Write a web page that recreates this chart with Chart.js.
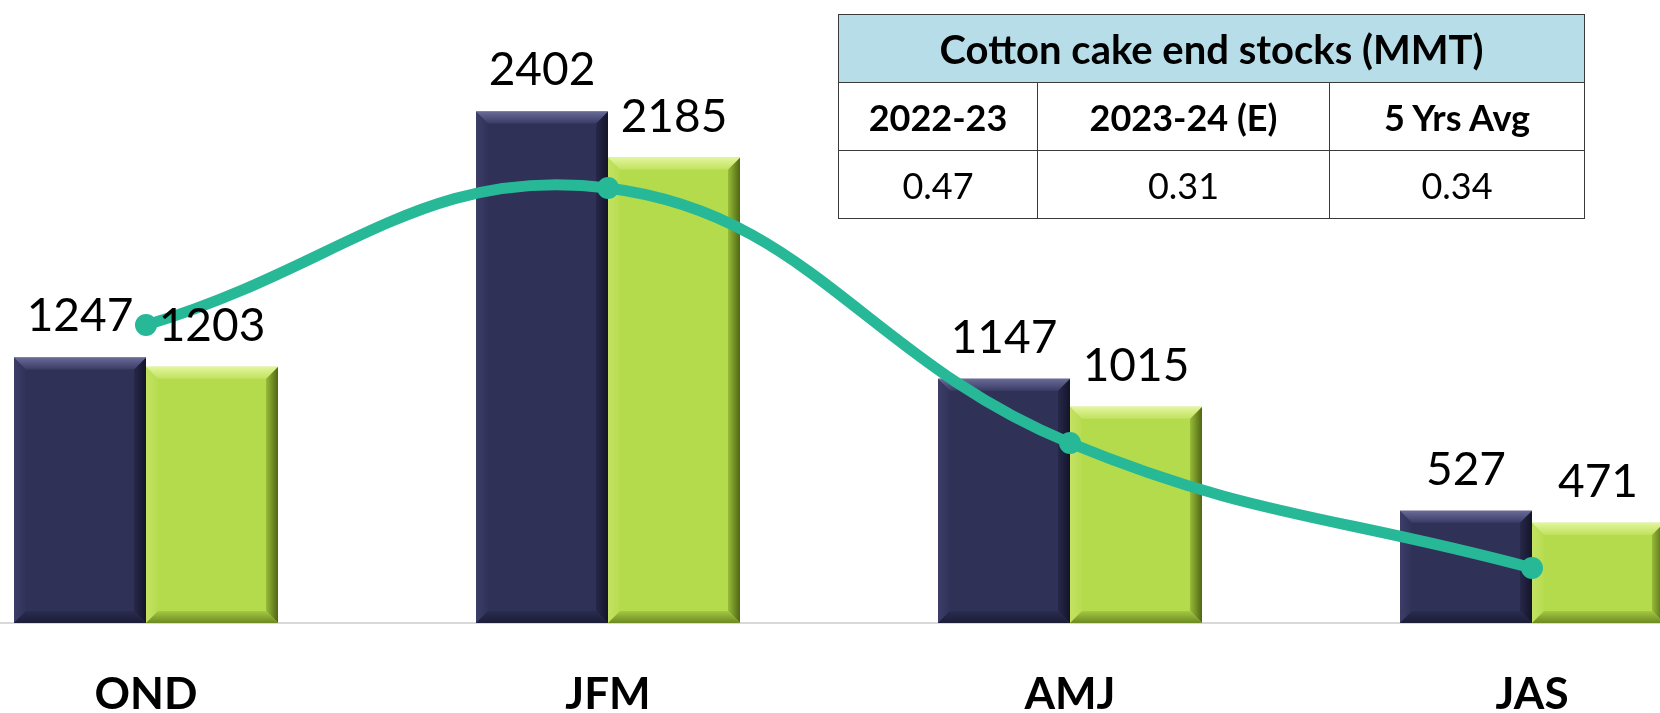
<!DOCTYPE html>
<html>
<head>
<meta charset="utf-8">
<script src="https://cdn.jsdelivr.net/npm/chart.js@4"></script>
<style>
  html, body { margin: 0; padding: 0; background: #fff; overflow: hidden; }
  body { width: 1660px; height: 713px; position: relative; }
  #wrap { position: absolute; left: -85px; top: 0; width: 1848px; height: 713px; }
  #stocks {
    position: absolute; left: 838px; top: 14px; width: 746px; height: 204px;
    border-collapse: collapse; font-family: Lato, sans-serif; color: #000;
    table-layout: fixed;
  }
  #stocks td, #stocks th { border: 1.5px solid #3a3a3a; text-align: center; padding: 0; }
  #stocks th { background: #b7dde8; font-weight: bold; font-size: 40px; height: 67px; }
  #stocks .yr td { font-weight: bold; font-size: 36px; height: 67px; }
  #stocks .val td { font-size: 36px; height: 67px; }
</style>
</head>
<body>
<div id="wrap"><canvas id="chart" width="1848" height="713"></canvas></div>
<table id="stocks">
  <colgroup><col style="width:199px"><col style="width:292px"><col style="width:255px"></colgroup>
  <tr><th colspan="3" id="tblTitle"></th></tr>
  <tr class="yr" id="tblHead"></tr>
  <tr class="val" id="tblVals"></tr>
</table>
<script>
const quarters = ["OND", "JFM", "AMJ", "JAS"];
const stocks2223 = [1247, 2402, 1147, 527];
const stocks2324 = [1203, 2185, 1015, 471];
const avgLine = [1399, 2042, 845, 258];

const tableTitle = "Cotton cake end stocks (MMT)";
const tableHeads = ["2022-23", "2023-24 (E)", "5 Yrs Avg"];
const tableVals = ["0.47", "0.31", "0.34"];

document.getElementById("tblTitle").textContent = tableTitle;
document.getElementById("tblHead").innerHTML = tableHeads.map(h => `<td>${h}</td>`).join("");
document.getElementById("tblVals").innerHTML = tableVals.map(v => `<td>${v}</td>`).join("");

// bevelled look of the bars
const bevels = {
  navy: { top: ["#6a6c98", "#3a3c66"], left: ["#3c3e68", "#30325a"], right: ["#14152a", "#262849"], bottom: ["#1c1d36", "#2a2c50"] },
  green: { top: ["#e2f59c", "#c2e260"], left: ["#c4e262", "#b6dc50"], right: ["#4f6614", "#98bb38"], bottom: ["#6c8a20", "#a4c844"] }
};

const bevelPlugin = {
  id: "bevel",
  afterDatasetDraw(chart, args) {
    const ds = chart.data.datasets[args.index];
    if (!ds.bevel) return;
    const ctx = chart.ctx;
    const c = bevels[ds.bevel];
    const b = 12;
    args.meta.data.forEach(bar => {
      const l = bar.x - bar.width / 2, r = bar.x + bar.width / 2;
      const t = bar.y, btm = bar.base;
      const quad = (pts, g) => {
        ctx.beginPath();
        ctx.moveTo(pts[0][0], pts[0][1]);
        pts.slice(1).forEach(p => ctx.lineTo(p[0], p[1]));
        ctx.closePath();
        ctx.fillStyle = g;
        ctx.fill();
      };
      const lg = (x0, y0, x1, y1, cols) => {
        const g = ctx.createLinearGradient(x0, y0, x1, y1);
        g.addColorStop(0, cols[0]);
        g.addColorStop(1, cols[1]);
        return g;
      };
      ctx.save();
      quad([[l, t], [l + b, t + b], [l + b, btm - b], [l, btm]], lg(l, 0, l + b, 0, c.left));
      quad([[r, t], [r, btm], [r - b, btm - b], [r - b, t + b]], lg(r, 0, r - b, 0, c.right));
      quad([[l, btm], [r, btm], [r - b, btm - b], [l + b, btm - b]], lg(0, btm, 0, btm - b, c.bottom));
      quad([[l, t], [r, t], [r - b, t + b], [l + b, t + b]], lg(0, t, 0, t + b, c.top));
      ctx.restore();
    });
  }
};

const valueLabels = {
  id: "valueLabels",
  afterDatasetsDraw(chart) {
    const ctx = chart.ctx;
    ctx.save();
    ctx.font = "46px Lato";
    ctx.fillStyle = "#000";
    ctx.textAlign = "center";
    ctx.textBaseline = "alphabetic";
    chart.data.datasets.forEach((ds, i) => {
      if (ds.type !== "bar") return;
      chart.getDatasetMeta(i).data.forEach((bar, j) => {
        ctx.fillText(String(ds.data[j]), bar.x, bar.y - 26);
      });
    });
    ctx.restore();
  }
};

new Chart(document.getElementById("chart"), {
  data: {
    labels: quarters,
    datasets: [
      {
        type: "line",
        label: "5 Yrs Avg",
        data: avgLine,
        borderColor: "#27b897",
        backgroundColor: "#27b897",
        borderWidth: 11,
        pointRadius: 11,
        pointHoverRadius: 11,
        pointBorderWidth: 0,
        tension: 0.42,
        order: 0
      },
      {
        type: "bar",
        label: "2022-23",
        data: stocks2223,
        backgroundColor: "#2f3157",
        bevel: "navy",
        order: 1
      },
      {
        type: "bar",
        label: "2023-24",
        data: stocks2324,
        backgroundColor: "#b4db4c",
        bevel: "green",
        order: 1
      }
    ]
  },
  options: {
    responsive: false,
    animation: false,
    layout: { padding: 0, autoPadding: false },
    datasets: { bar: { categoryPercentage: 0.5714, barPercentage: 1 } },
    plugins: { legend: { display: false }, tooltip: { enabled: false } },
    scales: {
      x: {
        grid: { display: false, drawTicks: false },
        border: { display: true, color: "#d9d9d9", width: 2 },
        ticks: { color: "#000", font: { family: "Lato", size: 44, weight: "bold" }, padding: 45 },
        afterFit: s => { s.height = 90; }
      },
      y: { display: false, min: 0, max: 2925 }
    }
  },
  plugins: [bevelPlugin, valueLabels]
});
</script>
</body>
</html>
